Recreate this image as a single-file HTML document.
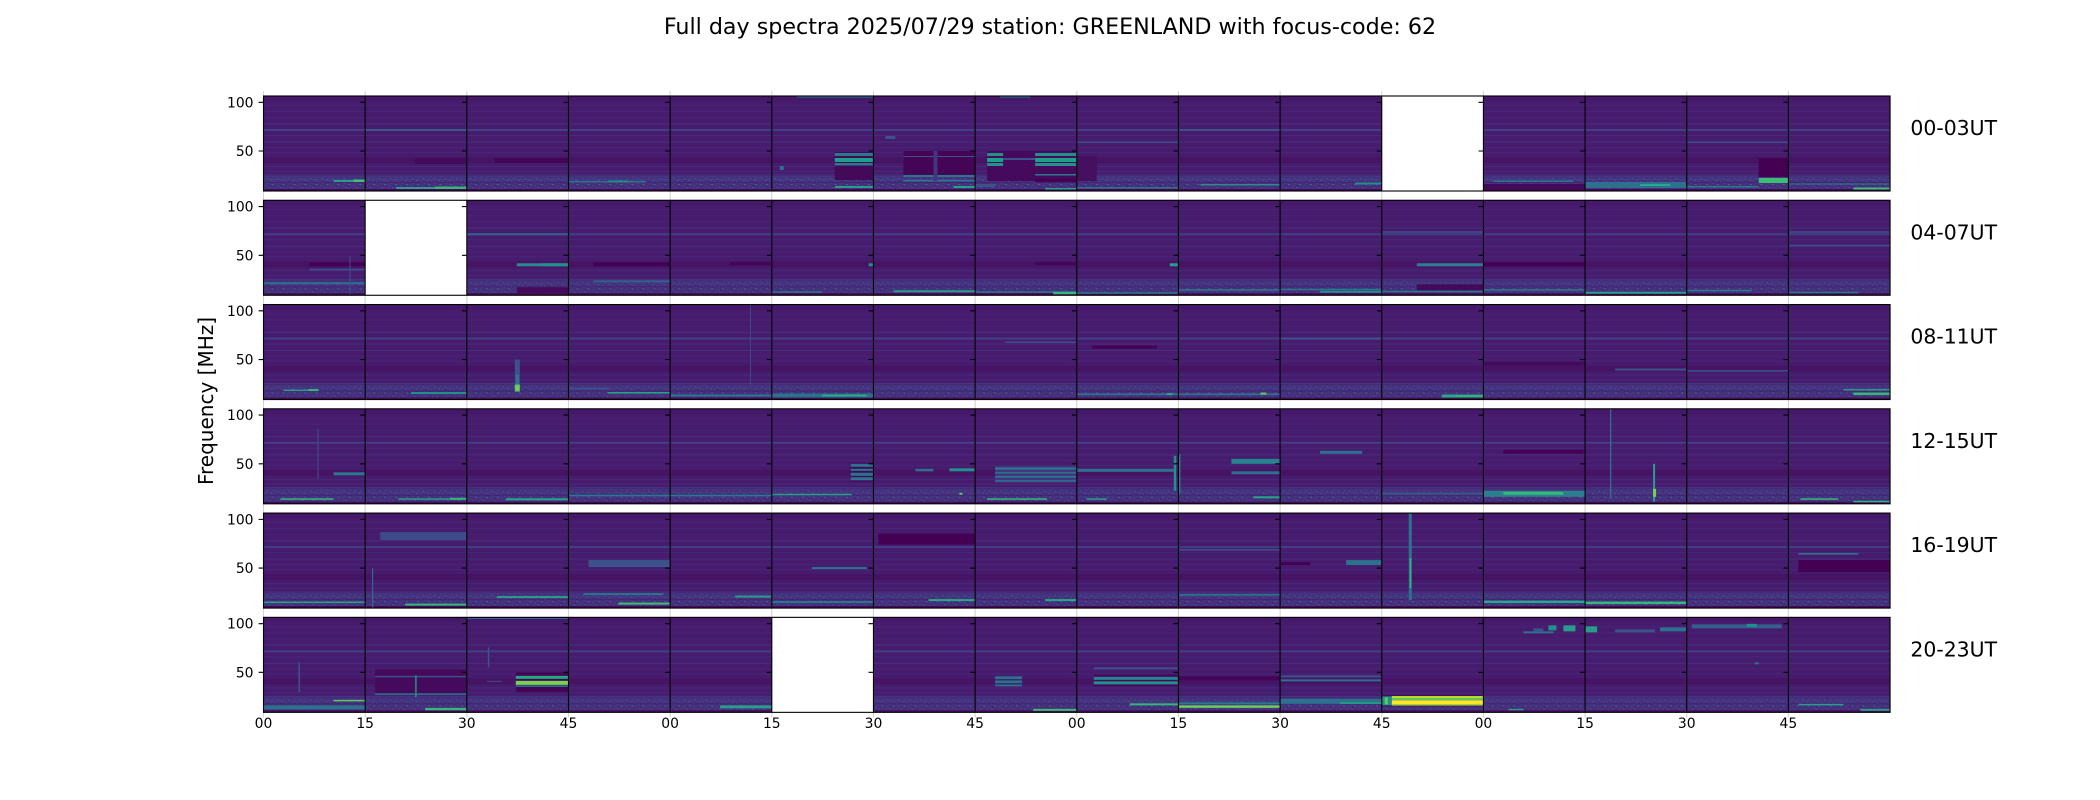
<!DOCTYPE html>
<html><head><meta charset="utf-8"><style>html,body{margin:0;padding:0;background:#fff}svg{display:block}text{font-family:"DejaVu Sans","Liberation Sans",sans-serif;fill:#000}</style></head><body>
<svg width="2100" height="800" viewBox="0 0 2100 800" xmlns="http://www.w3.org/2000/svg">
<defs>
<pattern id="nz" patternUnits="userSpaceOnUse" width="11" height="13">
<rect width="11" height="13" fill="#462f7c"/>
<rect x="1" y="1" width="1" height="1" fill="#3b528b"/>
<rect x="5" y="0" width="2" height="1" fill="#34608d"/>
<rect x="9" y="3" width="1" height="1" fill="#3e4a89"/>
<rect x="3" y="4" width="1" height="1" fill="#2f6c8e"/>
<rect x="7" y="6" width="2" height="1" fill="#3b528b"/>
<rect x="0" y="7" width="1" height="1" fill="#34608d"/>
<rect x="4" y="9" width="1" height="1" fill="#3e4a89"/>
<rect x="8" y="10" width="2" height="1" fill="#2f6c8e"/>
<rect x="2" y="11" width="1" height="1" fill="#3b528b"/>
<rect x="6" y="12" width="1" height="1" fill="#450b5c"/>
<rect x="1" y="5" width="1" height="1" fill="#450b5c"/>
<rect x="10" y="8" width="1" height="1" fill="#450b5c"/>
<rect x="0" y="2" width="11" height="1" fill="#443a83" opacity="0.5"/>
<rect x="0" y="8" width="11" height="1" fill="#471a6c" opacity="0.6"/>
</pattern>
<g id="bg">
<rect width="102" height="95" fill="#471c6e"/>
<rect y="0" width="102" height="5" fill="#46186a"/>
<rect y="9" width="102" height="1" fill="#482475"/>
<rect y="15" width="102" height="1" fill="#482677"/>
<rect y="21" width="102" height="1" fill="#482475"/>
<rect y="27" width="102" height="1.5" fill="#472a7a"/>
<rect y="33" width="102" height="2" fill="#423f85"/>
<rect y="39" width="102" height="1" fill="#472a7a"/>
<rect y="45.5" width="102" height="1" fill="#46307e"/>
<rect y="51" width="102" height="1" fill="#482475"/>
<rect y="56" width="102" height="1" fill="#482677"/>
<rect y="61" width="102" height="6" fill="#471465"/>
<rect y="70" width="102" height="1" fill="#472a7a"/>
<rect y="75" width="102" height="1" fill="#472a7a"/>
<rect y="78.5" width="102" height="1" fill="#443983"/>
<rect y="80" width="102" height="13" fill="url(#nz)"/>
<rect y="83" width="102" height="1" fill="#433e85"/>
<rect y="93" width="102" height="2" fill="#450b5c"/>
</g>
<g id="rowdeco">
<path d="M263.5 -4.9v4.9M365.16 -4.9v4.9M466.82 -4.9v4.9M568.48 -4.9v4.9M670.14 -4.9v4.9M771.8 -4.9v4.9M873.46 -4.9v4.9M975.12 -4.9v4.9M1076.78 -4.9v4.9M1178.44 -4.9v4.9M1280.1 -4.9v4.9M1381.76 -4.9v4.9M1483.42 -4.9v4.9M1585.08 -4.9v4.9M1686.74 -4.9v4.9M1788.4 -4.9v4.9M263.5 95v4.9M365.16 95v4.9M466.82 95v4.9M568.48 95v4.9M670.14 95v4.9M771.8 95v4.9M873.46 95v4.9M975.12 95v4.9M1076.78 95v4.9M1178.44 95v4.9M1280.1 95v4.9M1381.76 95v4.9M1483.42 95v4.9M1585.08 95v4.9M1686.74 95v4.9M1788.4 95v4.9" stroke="#d4d4d4" stroke-width="1.1" fill="none"/>
<rect x="263.5" y="0" width="1626.56" height="95" fill="none" stroke="#000" stroke-width="1.1"/>
<path d="M365.16 0v95M466.82 0v95M568.48 0v95M670.14 0v95M771.8 0v95M873.46 0v95M975.12 0v95M1076.78 0v95M1178.44 0v95M1280.1 0v95M1381.76 0v95M1483.42 0v95M1585.08 0v95M1686.74 0v95M1788.4 0v95" stroke="#000" stroke-width="1.1" fill="none"/>
<path d="M258.6 6.3h4.9M258.6 55h4.9M360.26 6.3h4.9M360.26 55h4.9M461.92 6.3h4.9M461.92 55h4.9M563.58 6.3h4.9M563.58 55h4.9M665.24 6.3h4.9M665.24 55h4.9M766.9 6.3h4.9M766.9 55h4.9M868.56 6.3h4.9M868.56 55h4.9M970.22 6.3h4.9M970.22 55h4.9M1071.88 6.3h4.9M1071.88 55h4.9M1173.54 6.3h4.9M1173.54 55h4.9M1275.2 6.3h4.9M1275.2 55h4.9M1376.86 6.3h4.9M1376.86 55h4.9M1478.52 6.3h4.9M1478.52 55h4.9M1580.18 6.3h4.9M1580.18 55h4.9M1681.84 6.3h4.9M1681.84 55h4.9M1783.5 6.3h4.9M1783.5 55h4.9" stroke="#000" stroke-width="1.1" fill="none"/>
<text x="253.5" y="11.3" text-anchor="end" font-size="13.9">100</text>
<text x="253.5" y="60" text-anchor="end" font-size="13.9">50</text>
</g>
</defs>
<rect width="2100" height="800" fill="#fff"/>

<!-- ROW 0 -->
<svg x="263.5" y="96" width="101.66" height="95"><use href="#bg"/><rect x="70" y="84" width="32" height="2" fill="#2a9d8a"/><rect x="90" y="83.5" width="12" height="2.5" fill="#44bf70"/></svg>
<svg x="365.16" y="96" width="101.66" height="95"><use href="#bg"/><rect y="33" width="102" height="2" fill="#3b5a8c"/><rect x="50" y="62" width="52" height="6" fill="#440a5a"/><rect x="31" y="91" width="71" height="2" fill="#2a9d8a"/><rect x="70" y="90.5" width="32" height="2.5" fill="#35b779"/></svg>
<svg x="466.82" y="96" width="101.66" height="95"><use href="#bg"/><rect x="28" y="62" width="74" height="5" fill="#440556"/></svg>
<svg x="568.48" y="96" width="101.66" height="95"><use href="#bg"/><rect x="0" y="85" width="77" height="1.5" fill="#2a788e"/><rect x="40" y="84.5" width="20" height="2" fill="#21918c"/></svg>
<svg x="670.14" y="96" width="101.66" height="95"><use href="#bg"/></svg>
<svg x="771.8" y="96" width="101.66" height="95"><use href="#bg"/><rect x="25" y="0.5" width="77" height="1" fill="#2a788e"/><rect x="63" y="56" width="39" height="28" fill="#440a5a"/><rect x="63" y="57" width="39" height="3" fill="#2a788e"/><rect x="63" y="62" width="39" height="4" fill="#1f9e89"/><rect x="63" y="67" width="39" height="2.5" fill="#2a788e"/><rect x="8" y="70" width="4" height="4" fill="#2c728e"/><rect x="63" y="90" width="39" height="2" fill="#2a9d8a"/></svg>
<svg x="873.46" y="96" width="101.66" height="95"><use href="#bg"/><rect x="30" y="55" width="72" height="26" fill="#440556"/><rect x="30" y="60" width="72" height="1" fill="#3b528b"/><rect x="30" y="79" width="72" height="2" fill="#2a788e"/><rect x="30" y="84" width="72" height="1.5" fill="#2a788e"/><rect x="60" y="55" width="4" height="30" fill="#453581"/><rect x="12" y="40" width="10" height="3" fill="#3b528b"/><rect x="80" y="90" width="22" height="2" fill="#21a685"/></svg>
<svg x="975.12" y="96" width="101.66" height="95"><use href="#bg"/><rect x="25" y="0.5" width="30" height="1" fill="#2a788e"/><rect x="12" y="55" width="90" height="30" fill="#450a5b"/><rect x="12" y="57" width="16" height="3" fill="#21918c"/><rect x="12" y="62" width="16" height="4" fill="#1fa088"/><rect x="12" y="67" width="16" height="3" fill="#21918c"/><rect x="60" y="57" width="42" height="3" fill="#21918c"/><rect x="60" y="62" width="42" height="4" fill="#1fa088"/><rect x="60" y="67" width="42" height="3" fill="#21918c"/><rect x="28" y="62" width="32" height="2" fill="#3b528b"/><rect x="60" y="78" width="42" height="1.5" fill="#2a788e"/><rect x="60" y="83" width="42" height="3" fill="#440154"/><rect x="0" y="88" width="20" height="3" fill="#3b528b"/><rect x="70" y="92" width="32" height="1.5" fill="#2a9d8a"/></svg>
<svg x="1076.78" y="96" width="101.66" height="95"><use href="#bg"/><rect y="45.5" width="102" height="1.5" fill="#3b528b"/><rect x="0" y="60" width="20" height="25" fill="#45105f"/><rect y="91" width="102" height="1.5" fill="#2a788e"/></svg>
<svg x="1178.44" y="96" width="101.66" height="95"><use href="#bg"/><rect y="33" width="102" height="2" fill="#3b528b"/><rect x="22" y="88" width="80" height="1.5" fill="#2a8a8d"/></svg>
<svg x="1280.1" y="96" width="101.66" height="95"><use href="#bg"/><rect x="75" y="86.5" width="27" height="2" fill="#21918c"/></svg>
<svg x="1381.76" y="96" width="101.66" height="95"><rect width="102" height="95" fill="#fff"/></svg>
<svg x="1483.42" y="96" width="101.66" height="95"><use href="#bg"/><rect x="10" y="84.5" width="80" height="1.5" fill="#2a788e"/><rect y="88" width="102" height="7" fill="#440a5a"/></svg>
<svg x="1585.08" y="96" width="101.66" height="95"><use href="#bg"/><rect y="86" width="102" height="6" fill="#2c728e"/><rect x="55" y="88" width="30" height="2" fill="#26a984"/></svg>
<svg x="1686.74" y="96" width="101.66" height="95"><use href="#bg"/><rect y="45.5" width="102" height="1.5" fill="#3b528b"/><rect x="72" y="62" width="30" height="19" fill="#440154"/><rect x="72" y="82" width="30" height="5" fill="#3dbc74"/><rect x="0" y="90" width="72" height="1.5" fill="#2a788e"/></svg>
<svg x="1788.4" y="96" width="101.66" height="95"><use href="#bg"/><rect y="87.5" width="102" height="1" fill="#2a788e"/><rect x="65" y="91.5" width="37" height="2" fill="#3dbc74"/></svg>

<!-- ROW 1 -->
<svg x="263.5" y="200.27" width="101.66" height="95"><use href="#bg"/><rect x="46" y="62" width="56" height="4" fill="#440154"/><rect x="46" y="68.5" width="56" height="1.5" fill="#3b528b"/><rect y="82" width="102" height="2" fill="#2c728e"/><rect x="86" y="56" width="1" height="38" fill="#3b528b"/></svg>
<svg x="365.16" y="200.27" width="101.66" height="95"><rect width="102" height="95" fill="#fff"/></svg>
<svg x="466.82" y="200.27" width="101.66" height="95"><use href="#bg"/><rect y="33" width="102" height="2" fill="#34618d"/><rect x="50" y="63" width="52" height="3" fill="#2a8a8d"/><rect x="75" y="63" width="27" height="3" fill="#21918c"/><rect x="50" y="87" width="52" height="6" fill="#450a5a"/></svg>
<svg x="568.48" y="200.27" width="101.66" height="95"><use href="#bg"/><rect x="25" y="62" width="77" height="4" fill="#440154"/><rect x="25" y="80" width="77" height="2" fill="#355f8d"/></svg>
<svg x="670.14" y="200.27" width="101.66" height="95"><use href="#bg"/><rect x="60" y="62" width="42" height="3" fill="#440556"/></svg>
<svg x="771.8" y="200.27" width="101.66" height="95"><use href="#bg"/><rect x="97" y="63" width="5" height="3" fill="#21918c"/><rect x="0" y="91" width="50" height="1.5" fill="#2a788e"/></svg>
<svg x="873.46" y="200.27" width="101.66" height="95"><use href="#bg"/><rect x="20" y="90" width="82" height="2" fill="#2a9d8a"/></svg>
<svg x="975.12" y="200.27" width="101.66" height="95"><use href="#bg"/><rect x="60" y="62" width="42" height="3" fill="#440556"/><rect y="91" width="102" height="1.5" fill="#2a788e"/><rect x="78" y="91.5" width="24" height="2.5" fill="#35b779"/></svg>
<svg x="1076.78" y="200.27" width="101.66" height="95"><use href="#bg"/><rect x="93" y="63" width="9" height="3" fill="#25a18a"/><rect y="92" width="102" height="1.5" fill="#2a788e"/></svg>
<svg x="1178.44" y="200.27" width="101.66" height="95"><use href="#bg"/><rect y="89" width="102" height="1.5" fill="#2a788e"/></svg>
<svg x="1280.1" y="200.27" width="101.66" height="95"><use href="#bg"/><rect y="88.5" width="102" height="1.5" fill="#2a788e"/><rect x="40" y="90.5" width="62" height="2" fill="#21918c"/></svg>
<svg x="1381.76" y="200.27" width="101.66" height="95"><use href="#bg"/><rect y="31" width="102" height="1.5" fill="#3b528b"/><rect x="35" y="63" width="67" height="3" fill="#2c7f8e"/><rect x="35" y="84" width="67" height="6" fill="#440a5a"/><rect y="90.5" width="102" height="1.5" fill="#2a788e"/></svg>
<svg x="1483.42" y="200.27" width="101.66" height="95"><use href="#bg"/><rect y="62" width="102" height="4" fill="#440154"/><rect y="89" width="102" height="1.5" fill="#2a788e"/></svg>
<svg x="1585.08" y="200.27" width="101.66" height="95"><use href="#bg"/><rect y="91.5" width="102" height="2" fill="#2a9d8a"/></svg>
<svg x="1686.74" y="200.27" width="101.66" height="95"><use href="#bg"/><rect x="0" y="89.5" width="65" height="1.5" fill="#2a788e"/></svg>
<svg x="1788.4" y="200.27" width="101.66" height="95"><use href="#bg"/><rect y="31" width="102" height="1.5" fill="#3b528b"/><rect y="44.5" width="102" height="1.5" fill="#3b528b"/><rect x="0" y="91.5" width="70" height="1.5" fill="#2a788e"/></svg>

<!-- ROW 2 -->
<svg x="263.5" y="304.54" width="101.66" height="95"><use href="#bg"/><rect x="20" y="85" width="35" height="1.5" fill="#2a9d8a"/><rect x="45" y="84.5" width="10" height="2" fill="#35b779"/></svg>
<svg x="365.16" y="304.54" width="101.66" height="95"><use href="#bg"/><rect x="46" y="87.5" width="56" height="2" fill="#21918c"/></svg>
<svg x="466.82" y="304.54" width="101.66" height="95"><use href="#bg"/><rect x="48" y="55" width="5" height="32" fill="#3b528b"/><rect x="49" y="70" width="3" height="17" fill="#2a788e"/><rect x="48" y="80" width="5" height="7" fill="#5ec962"/><rect x="49" y="82" width="3" height="3" fill="#7ad151"/></svg>
<svg x="568.48" y="304.54" width="101.66" height="95"><use href="#bg"/><rect x="0" y="83" width="40" height="2" fill="#3b528b"/><rect x="39" y="87.5" width="63" height="1.5" fill="#22a884"/></svg>
<svg x="670.14" y="304.54" width="101.66" height="95"><use href="#bg"/><rect x="80" y="0" width="0.8" height="80" fill="#3b528b"/><rect y="90" width="102" height="2" fill="#2a788e"/></svg>
<svg x="771.8" y="304.54" width="101.66" height="95"><use href="#bg"/><rect y="89" width="102" height="4" fill="#2c728e"/><rect x="50" y="90" width="45" height="2" fill="#26a984"/></svg>
<svg x="873.46" y="304.54" width="101.66" height="95"><use href="#bg"/></svg>
<svg x="975.12" y="304.54" width="101.66" height="95"><use href="#bg"/><rect x="30" y="37" width="72" height="1.5" fill="#3b528b"/></svg>
<svg x="1076.78" y="304.54" width="101.66" height="95"><use href="#bg"/><rect x="15" y="41" width="65" height="3" fill="#440154"/><rect y="89" width="102" height="1.5" fill="#2a788e"/><rect x="90" y="88.5" width="6" height="2" fill="#22a884"/></svg>
<svg x="1178.44" y="304.54" width="101.66" height="95"><use href="#bg"/><rect y="89" width="102" height="1.5" fill="#2a788e"/><rect x="82" y="88" width="6" height="2" fill="#5ec962"/></svg>
<svg x="1280.1" y="304.54" width="101.66" height="95"><use href="#bg"/><rect y="33" width="102" height="2" fill="#3b528b"/></svg>
<svg x="1381.76" y="304.54" width="101.66" height="95"><use href="#bg"/><rect x="60" y="90" width="42" height="3" fill="#26a984"/><rect x="75" y="90.5" width="27" height="2" fill="#2fb47c"/></svg>
<svg x="1483.42" y="304.54" width="101.66" height="95"><use href="#bg"/><rect y="57" width="102" height="4" fill="#450a5c"/></svg>
<svg x="1585.08" y="304.54" width="101.66" height="95"><use href="#bg"/><rect x="30" y="64" width="72" height="2" fill="#3b528b"/></svg>
<svg x="1686.74" y="304.54" width="101.66" height="95"><use href="#bg"/><rect y="65.5" width="102" height="1.5" fill="#3b528b"/></svg>
<svg x="1788.4" y="304.54" width="101.66" height="95"><use href="#bg"/><rect x="55" y="84.5" width="47" height="1.5" fill="#2a9d8a"/><rect x="65" y="88" width="37" height="2.5" fill="#35b779"/></svg>

<!-- ROW 3 -->
<svg x="263.5" y="408.81" width="101.66" height="95"><use href="#bg"/><rect x="54" y="20" width="1" height="50" fill="#3b528b"/><rect x="70" y="63.5" width="32" height="3" fill="#2a788e"/><rect x="17" y="89.5" width="53" height="1.5" fill="#35b779"/></svg>
<svg x="365.16" y="408.81" width="101.66" height="95"><use href="#bg"/><rect x="33" y="89.5" width="69" height="1.5" fill="#2a9d8a"/><rect x="85" y="89" width="17" height="2" fill="#35b779"/></svg>
<svg x="466.82" y="408.81" width="101.66" height="95"><use href="#bg"/><rect x="39" y="89.5" width="63" height="2" fill="#22a884"/></svg>
<svg x="568.48" y="408.81" width="101.66" height="95"><use href="#bg"/><rect y="86" width="102" height="1.5" fill="#2a788e"/></svg>
<svg x="670.14" y="408.81" width="101.66" height="95"><use href="#bg"/><rect y="86" width="102" height="1.5" fill="#2a788e"/></svg>
<svg x="771.8" y="408.81" width="101.66" height="95"><use href="#bg"/><rect x="79" y="54" width="23" height="19" fill="#440a5a"/><rect x="79" y="55" width="23" height="3" fill="#2c728e"/><rect x="79" y="60" width="23" height="2" fill="#2a788e"/><rect x="79" y="64" width="23" height="3" fill="#2c728e"/><rect x="79" y="68.5" width="23" height="3" fill="#2a788e"/><rect x="0" y="85" width="80" height="1.5" fill="#2a9d8a"/></svg>
<svg x="873.46" y="408.81" width="101.66" height="95"><use href="#bg"/><rect x="42" y="60" width="18" height="2.5" fill="#2c728e"/><rect x="76" y="59.5" width="26" height="3" fill="#21918c"/><rect x="86" y="84" width="3" height="2" fill="#5ec962"/></svg>
<svg x="975.12" y="408.81" width="101.66" height="95"><use href="#bg"/><rect x="20" y="57" width="82" height="17" fill="#45307c"/><rect x="20" y="58.5" width="82" height="2.5" fill="#2c728e"/><rect x="20" y="63" width="82" height="2" fill="#31688e"/><rect x="20" y="67" width="82" height="2" fill="#2c728e"/><rect x="20" y="71" width="82" height="2" fill="#31688e"/><rect x="12" y="89.5" width="60" height="1.5" fill="#35b779"/></svg>
<svg x="1076.78" y="408.81" width="101.66" height="95"><use href="#bg"/><rect x="0" y="60" width="97" height="3" fill="#2c728e"/><rect x="97" y="47" width="2.5" height="35" fill="#21918c"/><rect x="10" y="89.5" width="20" height="1.5" fill="#2a9d8a"/></svg>
<svg x="1178.44" y="408.81" width="101.66" height="95"><use href="#bg"/><rect x="0" y="45" width="2" height="40" fill="#2a788e"/><rect x="53" y="50" width="49" height="5" fill="#25848e"/><rect x="53" y="62.5" width="49" height="3" fill="#2c728e"/><rect x="75" y="87.5" width="27" height="2" fill="#22a884"/></svg>
<svg x="1280.1" y="408.81" width="101.66" height="95"><use href="#bg"/><rect x="40" y="42" width="42" height="3" fill="#2c728e"/></svg>
<svg x="1381.76" y="408.81" width="101.66" height="95"><use href="#bg"/><rect y="84" width="102" height="2" fill="#3b528b"/></svg>
<svg x="1483.42" y="408.81" width="101.66" height="95"><use href="#bg"/><rect x="20" y="41" width="80" height="4" fill="#440154"/><rect y="82" width="102" height="6" fill="#2c7f8e"/><rect x="20" y="83" width="60" height="3" fill="#35b779"/></svg>
<svg x="1585.08" y="408.81" width="101.66" height="95"><use href="#bg"/><rect x="25" y="0" width="1.2" height="90" fill="#2a788e"/><rect x="68" y="55" width="2" height="38" fill="#2a9d8a"/><rect x="68" y="80" width="3" height="8" fill="#7ad151"/></svg>
<svg x="1686.74" y="408.81" width="101.66" height="95"><use href="#bg"/></svg>
<svg x="1788.4" y="408.81" width="101.66" height="95"><use href="#bg"/><rect x="12" y="89.5" width="38" height="1.5" fill="#35b779"/><rect x="65" y="92" width="37" height="1.5" fill="#2fb47c"/></svg>

<!-- ROW 4 -->
<svg x="263.5" y="513.08" width="101.66" height="95"><use href="#bg"/><rect y="88.5" width="102" height="1.5" fill="#22a884"/></svg>
<svg x="365.16" y="513.08" width="101.66" height="95"><use href="#bg"/><rect x="15" y="19" width="87" height="8" fill="#3e4a89"/><rect x="7" y="55" width="1" height="40" fill="#2a788e"/><rect x="40" y="90.5" width="62" height="2" fill="#35b779"/></svg>
<svg x="466.82" y="513.08" width="101.66" height="95"><use href="#bg"/><rect x="30" y="83" width="72" height="2" fill="#2a9d8a"/></svg>
<svg x="568.48" y="513.08" width="101.66" height="95"><use href="#bg"/><rect x="20" y="47" width="82" height="7" fill="#3b528b"/><rect x="15" y="80" width="80" height="2" fill="#2c728e"/><rect x="50" y="89.5" width="52" height="2" fill="#3dbc74"/></svg>
<svg x="670.14" y="513.08" width="101.66" height="95"><use href="#bg"/><rect x="65" y="82.5" width="37" height="2" fill="#2a9d8a"/></svg>
<svg x="771.8" y="513.08" width="101.66" height="95"><use href="#bg"/><rect x="40" y="54" width="55" height="2" fill="#2c728e"/><rect y="88" width="102" height="2" fill="#2a788e"/></svg>
<svg x="873.46" y="513.08" width="101.66" height="95"><use href="#bg"/><rect x="5" y="20.5" width="97" height="11" fill="#440154"/><rect x="55" y="86" width="47" height="2" fill="#26a984"/></svg>
<svg x="975.12" y="513.08" width="101.66" height="95"><use href="#bg"/><rect x="70" y="86" width="32" height="2" fill="#26a984"/></svg>
<svg x="1076.78" y="513.08" width="101.66" height="95"><use href="#bg"/></svg>
<svg x="1178.44" y="513.08" width="101.66" height="95"><use href="#bg"/><rect y="36" width="102" height="1.5" fill="#3b528b"/><rect y="81" width="102" height="1.5" fill="#2a788e"/></svg>
<svg x="1280.1" y="513.08" width="101.66" height="95"><use href="#bg"/><rect x="0" y="49" width="30" height="3" fill="#440154"/><rect x="66" y="47" width="36" height="5" fill="#2c728e"/></svg>
<svg x="1381.76" y="513.08" width="101.66" height="95"><use href="#bg"/><rect x="27" y="0" width="3" height="87" fill="#2c728e"/><rect x="28" y="45" width="1.5" height="30" fill="#35b779"/></svg>
<svg x="1483.42" y="513.08" width="101.66" height="95"><use href="#bg"/><rect y="87.5" width="102" height="2.5" fill="#26a984"/></svg>
<svg x="1585.08" y="513.08" width="101.66" height="95"><use href="#bg"/><rect y="88.5" width="102" height="2.5" fill="#35b779"/></svg>
<svg x="1686.74" y="513.08" width="101.66" height="95"><use href="#bg"/></svg>
<svg x="1788.4" y="513.08" width="101.66" height="95"><use href="#bg"/><rect x="10" y="40" width="60" height="1.5" fill="#2a788e"/><rect x="10" y="47" width="92" height="12" fill="#440154"/></svg>

<!-- ROW 5 -->
<svg x="263.5" y="617.35" width="101.66" height="95"><use href="#bg"/><rect x="35" y="45" width="1.5" height="30" fill="#3b528b"/><rect x="70" y="82.5" width="32" height="1.5" fill="#5ec962"/><rect y="88" width="102" height="4" fill="#2c728e"/></svg>
<svg x="365.16" y="617.35" width="101.66" height="95"><use href="#bg"/><rect x="10" y="52" width="92" height="25" fill="#450a5c"/><rect x="10" y="58.5" width="92" height="1.5" fill="#3b528b"/><rect x="10" y="76" width="92" height="1.5" fill="#2a788e"/><rect x="50" y="58" width="1.5" height="22" fill="#21918c"/><rect x="60" y="90.5" width="42" height="2.5" fill="#35b779"/></svg>
<svg x="466.82" y="617.35" width="101.66" height="95"><use href="#bg"/><rect y="0.5" width="102" height="1" fill="#2a788e"/><rect x="49" y="55" width="53" height="20" fill="#440556"/><rect x="49" y="58.5" width="53" height="3" fill="#22a884"/><rect x="49" y="63.5" width="53" height="4" fill="#7ad151"/><rect x="49" y="68" width="53" height="1.5" fill="#2a788e"/><rect x="20" y="63.5" width="15" height="1" fill="#3b528b"/><rect x="21" y="30" width="1.5" height="20" fill="#3b528b"/></svg>
<svg x="568.48" y="617.35" width="101.66" height="95"><use href="#bg"/></svg>
<svg x="670.14" y="617.35" width="101.66" height="95"><use href="#bg"/><rect x="50" y="88" width="52" height="3" fill="#2a9d8a"/></svg>
<svg x="771.8" y="617.35" width="101.66" height="95"><rect width="102" height="95" fill="#fff"/></svg>
<svg x="873.46" y="617.35" width="101.66" height="95"><use href="#bg"/></svg>
<svg x="975.12" y="617.35" width="101.66" height="95"><use href="#bg"/><rect x="20" y="59" width="27" height="10" fill="#2c728e"/><rect x="20" y="62" width="27" height="1" fill="#440556"/><rect x="20" y="66" width="27" height="1" fill="#440556"/><rect x="58" y="91.5" width="44" height="2" fill="#3dbc74"/></svg>
<svg x="1076.78" y="617.35" width="101.66" height="95"><use href="#bg"/><rect x="17" y="50" width="85" height="2" fill="#3b528b"/><rect x="17" y="57" width="85" height="12" fill="#450a5c"/><rect x="17" y="59.5" width="85" height="3" fill="#25848e"/><rect x="17" y="64" width="85" height="3" fill="#21918c"/><rect x="53" y="86" width="49" height="2" fill="#35b779"/></svg>
<svg x="1178.44" y="617.35" width="101.66" height="95"><use href="#bg"/><rect y="59" width="102" height="4" fill="#440556"/><rect y="85" width="102" height="2" fill="#2a788e"/><rect y="88" width="102" height="2.5" fill="#6ccd5a"/></svg>
<svg x="1280.1" y="617.35" width="101.66" height="95"><use href="#bg"/><rect y="58" width="102" height="2" fill="#3b528b"/><rect y="62" width="102" height="2" fill="#2c728e"/><rect y="81.5" width="102" height="5" fill="#2c728e"/><rect x="60" y="85" width="42" height="1.5" fill="#22a884"/></svg>
<svg x="1381.76" y="617.35" width="101.66" height="95"><use href="#bg"/><rect y="78" width="102" height="11" fill="#440154"/><rect x="0" y="79" width="10" height="9" fill="#21918c"/><rect x="3" y="80" width="3" height="7" fill="#5ec962"/><rect x="10" y="78.7" width="92" height="2" fill="#bddf26"/><rect x="10" y="80.7" width="92" height="2.3" fill="#5ec962"/><rect x="10" y="83" width="92" height="4.3" fill="#fde725"/><rect x="10" y="87.3" width="92" height="1" fill="#7ad151"/></svg>
<svg x="1483.42" y="617.35" width="101.66" height="95"><use href="#bg"/><rect x="40" y="14" width="30" height="2" fill="#2c728e"/><rect x="65" y="8" width="8" height="5" fill="#21918c"/><rect x="80" y="8" width="12" height="6" fill="#2a9d8a"/><rect x="50" y="11" width="10" height="3" fill="#3b528b"/><rect x="25" y="91.5" width="15" height="1.5" fill="#2a9d8a"/></svg>
<svg x="1585.08" y="617.35" width="101.66" height="95"><use href="#bg"/><rect x="0" y="9" width="12" height="6" fill="#2a9d8a"/><rect x="30" y="12" width="40" height="3" fill="#3b528b"/><rect x="75" y="10" width="27" height="4" fill="#2c728e"/></svg>
<svg x="1686.74" y="617.35" width="101.66" height="95"><use href="#bg"/><rect x="5" y="7" width="90" height="4" fill="#35608d"/><rect x="60" y="6.5" width="10" height="3" fill="#21918c"/><rect x="68" y="45" width="4" height="2" fill="#2c728e"/></svg>
<svg x="1788.4" y="617.35" width="101.66" height="95"><use href="#bg"/><rect x="10" y="86.5" width="45" height="1.5" fill="#2a9d8a"/><rect x="72" y="91.5" width="30" height="2" fill="#2a9d8a"/></svg>

<!-- frames, ticks -->
<use href="#rowdeco" y="96"/>
<use href="#rowdeco" y="200.27"/>
<use href="#rowdeco" y="304.54"/>
<use href="#rowdeco" y="408.81"/>
<use href="#rowdeco" y="513.08"/>
<use href="#rowdeco" y="617.35"/>

<!-- x tick labels -->
<g font-size="13.9" text-anchor="middle">
<text x="263.5" y="728">00</text><text x="365.16" y="728">15</text><text x="466.82" y="728">30</text><text x="568.48" y="728">45</text>
<text x="670.14" y="728">00</text><text x="771.8" y="728">15</text><text x="873.46" y="728">30</text><text x="975.12" y="728">45</text>
<text x="1076.78" y="728">00</text><text x="1178.44" y="728">15</text><text x="1280.1" y="728">30</text><text x="1381.76" y="728">45</text>
<text x="1483.42" y="728">00</text><text x="1585.08" y="728">15</text><text x="1686.74" y="728">30</text><text x="1788.4" y="728">45</text>
</g>

<!-- row labels -->
<g font-size="20.4">
<text x="1910.4" y="135">00-03UT</text>
<text x="1910.4" y="239.27">04-07UT</text>
<text x="1910.4" y="343.54">08-11UT</text>
<text x="1910.4" y="447.81">12-15UT</text>
<text x="1910.4" y="552.08">16-19UT</text>
<text x="1910.4" y="656.35">20-23UT</text>
</g>

<text transform="translate(213,401) rotate(-90)" text-anchor="middle" font-size="20">Frequency [MHz]</text>
<text x="1050" y="34" text-anchor="middle" font-size="22.2">Full day spectra 2025/07/29 station: GREENLAND with focus-code: 62</text>
</svg>
</body></html>
